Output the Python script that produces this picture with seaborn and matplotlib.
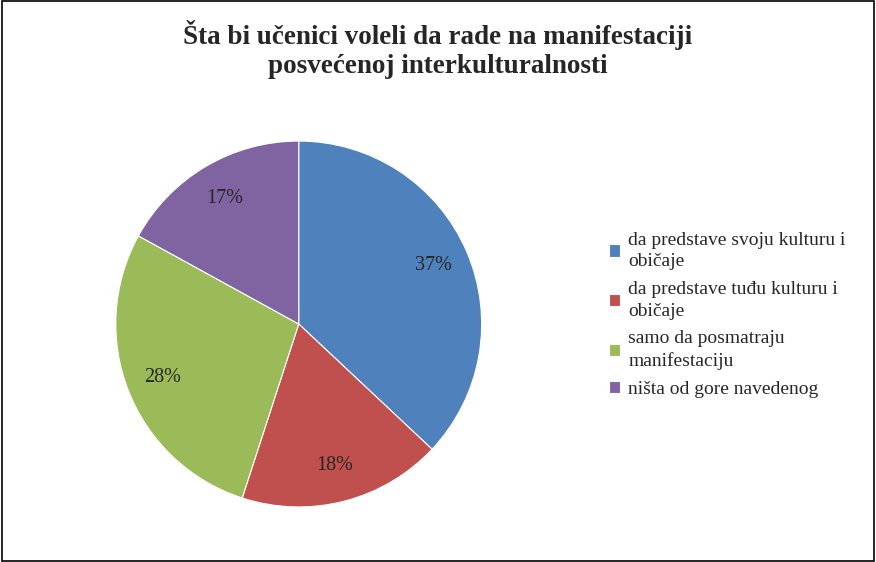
import matplotlib
matplotlib.use('Agg')
import matplotlib.pyplot as plt
import seaborn as sns
from matplotlib.patches import Rectangle

categories = ['da predstave svoju kulturu i\nobičaje',
              'da predstave tuđu kulturu i\nobičaje',
              'samo da posmatraju\nmanifestaciju',
              'ništa od gore navedenog']
values = [37, 18, 28, 17]
colors = ['#4F81BD', '#C0504D', '#9BBB59', '#8064A2']

sns.set_style('white')
plt.rcParams['font.family'] = 'Liberation Serif'

fig = plt.figure(figsize=(8.76, 5.62), dpi=100)
fig.patches.append(Rectangle((0.002, 0.002), 0.996, 0.996, transform=fig.transFigure,
                             fill=False, edgecolor='black', linewidth=1.2))

ax = fig.add_axes([0.132, 0.098, 0.418, 0.651])
wedges, texts, autotexts = ax.pie(values, colors=colors, startangle=90, counterclock=False,
                                  autopct='%d%%', pctdistance=0.8,
                                  wedgeprops={'edgecolor': 'white', 'linewidth': 0.8},
                                  textprops={'fontsize': 14.5})
ax.set_xlim(-1, 1)
ax.set_ylim(-1, 1)
ax.set_aspect('equal')

fig.suptitle('Šta bi učenici voleli da rade na manifestaciji\nposvećenoj interkulturalnosti',
             x=0.5, y=0.965, fontsize=19.5, fontweight='bold', linespacing=1.25)

leg = fig.legend(wedges, categories, loc='center left', bbox_to_anchor=(0.675, 0.44),
                 frameon=False, fontsize=14, handlelength=0.6, handleheight=0.6,
                 handletextpad=0.4, labelspacing=0.55)
for t in leg.get_texts():
    t.set_linespacing(1.35)

fig.savefig('out.png', dpi=100)
